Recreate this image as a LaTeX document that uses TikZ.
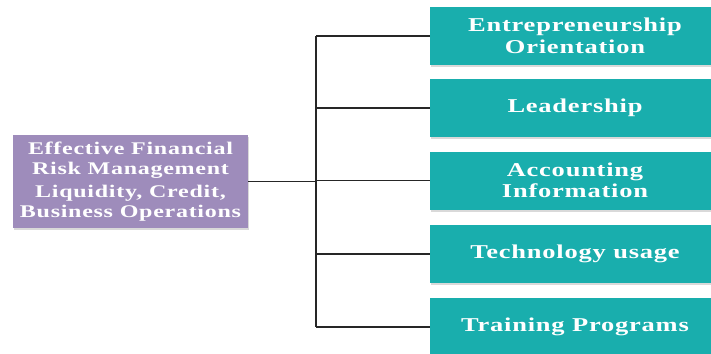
\documentclass[tikz,border=0pt]{standalone}
\usepackage{fontspec}
\setmainfont[FakeStretch=1.35,LetterSpace=4]{Liberation Serif}
\usetikzlibrary{shadows}
\definecolor{tealbox}{HTML}{19AEAD}
\definecolor{purplebox}{HTML}{9E8CBB}
\begin{document}
\begin{tikzpicture}[x=1pt,y=-1pt,
  tbox/.style={fill=tealbox,minimum width=290pt,minimum height=58pt,inner sep=0pt,
    text=white,align=center,font=\bfseries\fontsize{19.6}{21.5}\selectfont,
    drop shadow={opacity=0.3,shadow xshift=1pt,shadow yshift=-2pt}},
  pbox/.style={fill=purplebox,minimum width=235pt,minimum height=93pt,inner sep=0pt,
    text=white,align=center,font=\bfseries\fontsize{17.8}{19.5}\selectfont,
    drop shadow={opacity=0.3,shadow xshift=1pt,shadow yshift=-2pt}},
  conn/.style={draw=black!85,line width=1.3pt}]
\useasboundingbox (0,0) rectangle (711,353);
\node[pbox] (P) at (130.5,181.5) {Effective Financial\\Risk Management\\[4pt]Liquidity, Credit,\\Business Operations};
\node[tbox] (T1) at (575,36) {Entrepreneurship\\Orientation};
\node[tbox] (T2) at (575,108) {Leadership};
\node[tbox] (T3) at (575,180.5) {Accounting\\Information};
\node[tbox] (T4) at (575,254) {Technology usage};
\node[tbox] (T5) at (575,327) {Training Programs};
\coordinate (btop) at (316,36);
\coordinate (bbot) at (316,327);
\draw[conn] (btop) -- (bbot);
\draw[conn] (P.east) -- (P.east -| btop);
\foreach \n in {T1,T2,T3,T4,T5}{
  \draw[conn] (\n.west) -- (\n.west -| btop);
}
\end{tikzpicture}
\end{document}
